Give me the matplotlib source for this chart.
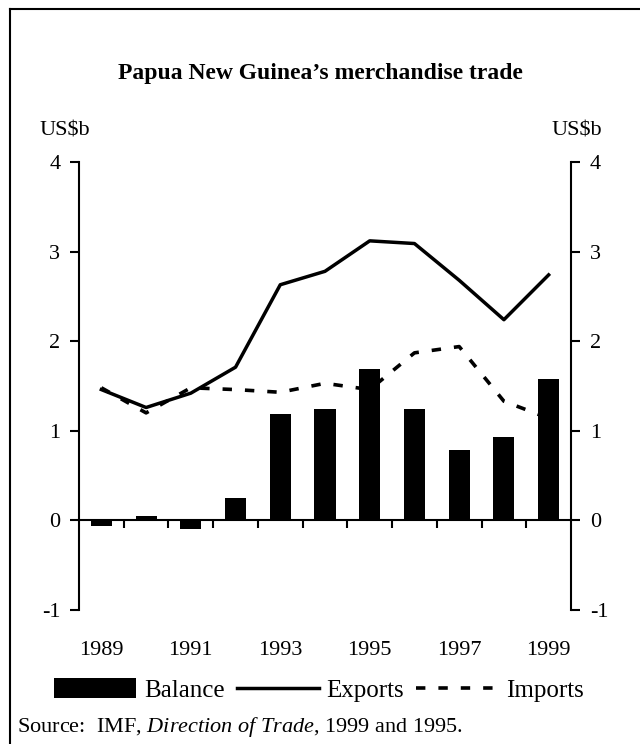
import matplotlib
matplotlib.use("Agg")
import matplotlib.pyplot as plt
import numpy as np

years = [1989, 1990, 1991, 1992, 1993, 1994, 1995, 1996, 1997, 1998, 1999]
balance = [-0.06, 0.05, -0.10, 0.25, 1.19, 1.24, 1.69, 1.24, 0.79, 0.93, 1.58]
exports = [1.46, 1.26, 1.42, 1.71, 2.63, 2.78, 3.12, 3.09, 2.68, 2.24, 2.74]
imports = [1.48, 1.20, 1.48, 1.46, 1.43, 1.53, 1.46, 1.87, 1.94, 1.33, 1.14]
year_labels = ["1989", "1991", "1993", "1995", "1997", "1999"]
yticks = [-1, 0, 1, 2, 3, 4]

plt.rcParams['font.family'] = ['Liberation Serif', 'DejaVu Serif']
plt.rcParams['mathtext.fontset'] = 'custom'
plt.rcParams['mathtext.rm'] = 'Liberation Serif'
plt.rcParams['mathtext.it'] = 'Liberation Serif:italic'

FS = 16
fig = plt.figure(figsize=(6.4, 7.44), dpi=100)
ax = fig.add_axes([79/640, 1-610/744, (571-79)/640, (610-162)/744])

x = np.arange(len(years))
ax.bar(x, balance, width=0.47, color='black', label='Balance', zorder=2)
ax.plot(x, exports, color='black', lw=2.5, label='Exports', zorder=3)
ax.plot(x, imports, color='black', lw=2.6, linestyle=(0, (2.6, 3.6)), label='Imports', zorder=3)

ax.set_xlim(-0.5, len(years) - 0.5)
ax.set_ylim(-1, 4)
ax.spines['top'].set_visible(False)
ax.spines['bottom'].set_position(('data', 0))
for s in ['left', 'right', 'bottom']:
    ax.spines[s].set_linewidth(1.5)
ax.set_xticks(x[:-1] + 0.5)
ax.set_xticklabels([])
ax.tick_params(axis='x', direction='out', length=6, width=1.5)
ax.set_yticks(yticks)
ax.set_yticklabels([str(v) for v in yticks])
ax.tick_params(axis='y', direction='out', length=6.5, width=1.5, pad=7,
               labelsize=FS, left=True, right=True, labelleft=True, labelright=True)

tr = ax.get_xaxis_transform()
for lab in year_labels:
    xi = years.index(int(lab))
    ax.text(xi, -0.09, lab, transform=tr, ha='center', va='center', fontsize=FS)

fig.text(320/640, 1-73/744, "Papua New Guinea\u2019s merchandise trade", ha='center', va='center',
         fontsize=17, fontweight='bold')
fig.text(65/640, 1-131/744, "US$b", ha='center', va='center', fontsize=FS)
fig.text(577/640, 1-131/744, "US$b", ha='center', va='center', fontsize=FS)

handles, labels = ax.get_legend_handles_labels()
h = [handles[labels.index(n)] for n in ['Balance', 'Exports', 'Imports']]
fig.legend(h, ['Balance', 'Exports', 'Imports'], loc='center', bbox_to_anchor=(319/640, 1-690/744),
           ncol=3, frameon=False, fontsize=18, handlelength=3.28, handletextpad=0.32,
           columnspacing=0.48, handleheight=0.8, borderpad=0)

fig.text(17/640, 1-727/744, r"Source:  IMF, $\it{Direction\ of\ Trade}$, 1999 and 1995.",
         ha='left', va='center', fontsize=16)

# outer frame (left and top edges visible)
fig.add_artist(plt.Line2D([10/640, 10/640], [0, 1-9/744], transform=fig.transFigure, color='black', lw=1.5))
fig.add_artist(plt.Line2D([10/640, 1], [1-9/744, 1-9/744], transform=fig.transFigure, color='black', lw=1.5))

fig.savefig("out.png", dpi=100)
